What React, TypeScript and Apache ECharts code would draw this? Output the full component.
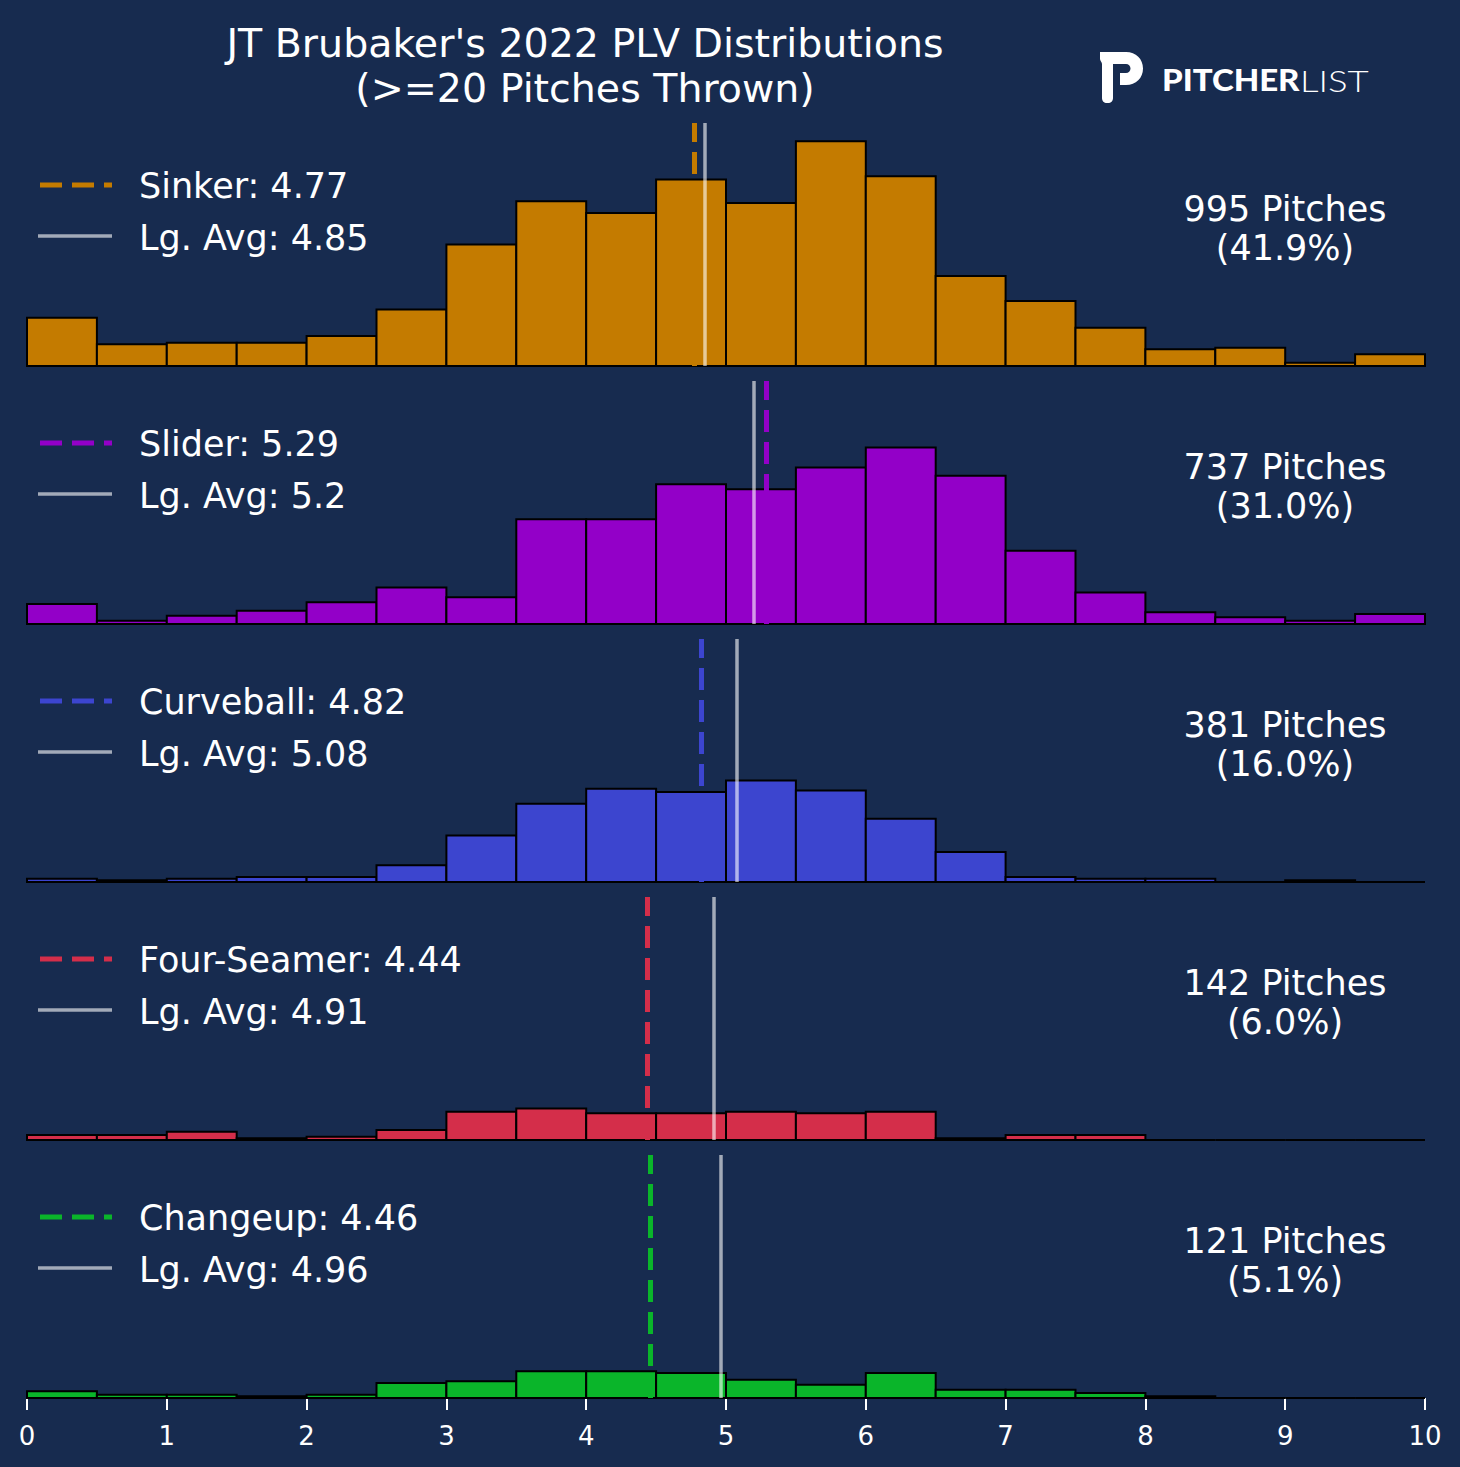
import { useEffect, useRef } from 'react'
import * as echarts from 'echarts'

// histogram bins (PLV 0-10, 0.5 wide)
const BIN_EDGES = [0, 0.5, 1, 1.5, 2, 2.5, 3, 3.5, 4, 4.5, 5, 5.5, 6, 6.5, 7, 7.5, 8, 8.5, 9, 9.5, 10]
const X_TICKS = [0, 1, 2, 3, 4, 5, 6, 7, 8, 9, 10]

const PITCH_NAMES = ['Sinker', 'Slider', 'Curveball', 'Four-Seamer', 'Changeup']
const PITCH_COLORS = ['#c47b00', '#9300c8', '#3c45cf', '#d42e4a', '#0ab52a']
const PITCH_PLV = [4.77, 5.29, 4.82, 4.44, 4.46]
const LEAGUE_PLV = [4.85, 5.2, 5.08, 4.91, 4.96]
const PITCH_TOTALS = [995, 737, 381, 142, 121]
const PITCH_SHARES = ['41.9%', '31.0%', '16.0%', '6.0%', '5.1%']

const SINKER_COUNTS = [29, 13, 14, 14, 18, 34, 73, 99, 92, 112, 98, 135, 114, 54, 39, 23, 10, 11, 2, 7]
const SLIDER_COUNTS = [12, 2, 5, 8, 13, 22, 16, 63, 63, 84, 81, 94, 106, 89, 44, 19, 7, 4, 2, 6]
const CURVEBALL_COUNTS = [2, 1, 2, 3, 3, 10, 28, 47, 56, 54, 61, 55, 38, 18, 3, 2, 2, 0, 1, 0]
const FOURSEAM_COUNTS = [3, 3, 5, 1, 2, 6, 17, 19, 16, 16, 17, 16, 17, 1, 3, 3, 0, 0, 0, 0]
const CHANGEUP_COUNTS = [4, 2, 2, 1, 2, 9, 10, 16, 16, 15, 11, 8, 15, 5, 5, 3, 1, 0, 0, 0]

const ALL_COUNTS = [SINKER_COUNTS, SLIDER_COUNTS, CURVEBALL_COUNTS, FOURSEAM_COUNTS, CHANGEUP_COUNTS]

const BG = '#172b4f'
const FONT = 'DejaVu Sans'
const LG_COLOR = 'rgba(255,255,255,0.6)'

const PANEL_TOP = 123
const PANEL_STEP = 258
const PANEL_H = 243
const Y_MAX = 146

// Pitcher List "P" mark
const LOGO_P =
  'M0 0 H26 C36 0 43 7 43 16.5 C43 26 36 33 26 33 H20 V21 H26 C28.5 21 30.5 19 30.5 16.5 C30.5 14 28.5 12 26 12 H13 V46 C13 49 11 51 8 51 H7 C4 51 2 49 2 46 V12 C2 10 0 9 0 7 Z'

echarts.graphic.registerShape('plLogo', echarts.graphic.extendPath(LOGO_P, {}))

function textEl(x: number, y: number, text: string, size: number, align = 'left', extra: any = {}, scaleX = 1) {
  return {
    type: 'text',
    x,
    y,
    scaleX,
    silent: true,
    style: {
      text,
      fill: '#ffffff',
      fontSize: size,
      fontFamily: FONT,
      align,
      verticalAlign: 'middle',
      textAlign: align,
      textVerticalAlign: 'middle',
      ...extra,
    },
  }
}

export default function App() {
  const chartRef = useRef<HTMLDivElement>(null)

  useEffect(() => {
    if (!chartRef.current) return
    document.body.style.margin = '0'
    document.body.style.background = BG

    const chart = echarts.init(chartRef.current, null, { renderer: 'svg' })

    const grids = PITCH_NAMES.map((_, i) => ({
      left: 27,
      right: 35,
      top: PANEL_TOP + PANEL_STEP * i,
      height: PANEL_H,
    }))

    const xAxes = PITCH_NAMES.map((_, i) => {
      const last = i === PITCH_NAMES.length - 1
      return {
        type: 'value',
        gridIndex: i,
        min: X_TICKS[0],
        max: X_TICKS[X_TICKS.length - 1],
        interval: 1,
        show: last,
        splitLine: { show: false },
        axisLine: { show: false },
        axisTick: { show: last, length: 12, lineStyle: { color: '#ffffff', width: 2 } },
        axisLabel: { show: last, color: '#ffffff', fontSize: 26, fontFamily: FONT, margin: 25 },
      }
    })

    const yAxes = PITCH_NAMES.map((_, i) => ({
      type: 'value',
      gridIndex: i,
      min: 0,
      max: Y_MAX,
      show: false,
    }))

    const series = PITCH_NAMES.map((name, i) => {
      const color = PITCH_COLORS[i]
      const data = ALL_COUNTS[i].map((c, b) => [BIN_EDGES[b], BIN_EDGES[b + 1], c])
      return {
        type: 'custom',
        name,
        xAxisIndex: i,
        yAxisIndex: i,
        data,
        encode: { x: [0, 1], y: 2 },
        silent: true,
        renderItem: (_params: any, api: any) => {
          const p0 = api.coord([api.value(0), api.value(2)])
          const p1 = api.coord([api.value(1), 0])
          return {
            type: 'rect',
            shape: { x: p0[0], y: p0[1], width: p1[0] - p0[0], height: p1[1] - p0[1] },
            style: { fill: color, stroke: '#000000', lineWidth: 2 },
          }
        },
        markLine: {
          silent: true,
          symbol: ['none', 'none'],
          label: { show: false },
          emphasis: { disabled: true },
          data: [
            { xAxis: PITCH_PLV[i], lineStyle: { color, width: 5, type: [22, 10], opacity: 1 } },
            { xAxis: LEAGUE_PLV[i], lineStyle: { color: LG_COLOR, width: 3.5, type: 'solid', opacity: 1 } },
          ],
        },
      }
    })

    const graphics: any[] = []
    PITCH_NAMES.forEach((name, i) => {
      const dy = PANEL_STEP * i
      graphics.push({
        type: 'line',
        silent: true,
        shape: { x1: 40, y1: 185 + dy, x2: 112, y2: 185 + dy },
        style: { stroke: PITCH_COLORS[i], lineWidth: 5, lineDash: [22, 10] },
      })
      graphics.push(textEl(139, 186 + dy, `${name}: ${PITCH_PLV[i]}`, 35))
      graphics.push({
        type: 'line',
        silent: true,
        shape: { x1: 38, y1: 236 + dy, x2: 112, y2: 236 + dy },
        style: { stroke: LG_COLOR, lineWidth: 3.5 },
      })
      graphics.push(textEl(139, 238 + dy, `Lg. Avg: ${LEAGUE_PLV[i]}`, 35))
      graphics.push(
        textEl(1285, 228 + dy, `${PITCH_TOTALS[i]} Pitches\n(${PITCH_SHARES[i]})`, 35, 'center', {
          lineHeight: 39,
        }),
      )
    })

    // title
    graphics.push(
      textEl(585, 65, "JT Brubaker's 2022 PLV Distributions\n(>=20 Pitches Thrown)", 39.5, 'center', {
        lineHeight: 45,
      }),
    )

    // logo
    graphics.push({
      type: 'plLogo',
      x: 1100,
      y: 52,
      silent: true,
      style: { fill: '#ffffff' },
    })
    graphics.push(textEl(1162, 80, 'PITCHER', 30, 'left', { fontFamily: 'Lato', fontWeight: 900 }, 1.1))
    graphics.push(textEl(1300, 80, 'LIST', 30, 'left', { fontFamily: 'Lato', fontWeight: 300 }, 1.22))

    chart.setOption({
      animation: false,
      backgroundColor: BG,
      grid: grids,
      xAxis: xAxes,
      yAxis: yAxes,
      series,
      graphic: { elements: graphics },
    })

    return () => {
      chart.dispose()
    }
  }, [])

  return (
    <div
      ref={chartRef}
      style={{ position: 'absolute', left: 0, top: 0, width: 1460, height: 1467 }}
    />
  )
}
